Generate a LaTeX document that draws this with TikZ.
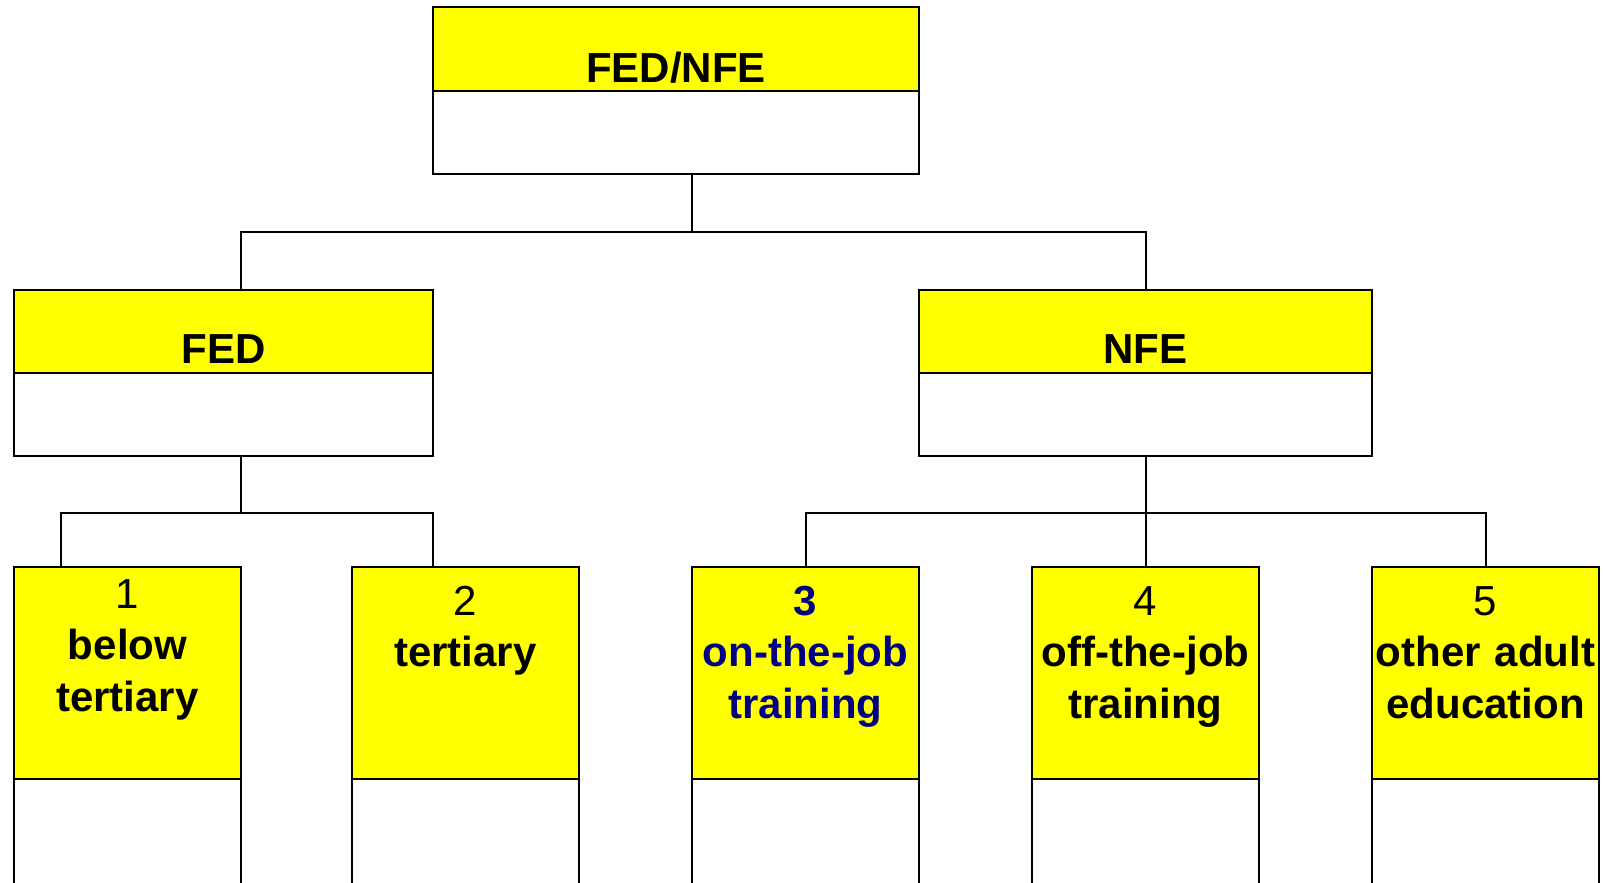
\documentclass[tikz,border=0pt]{standalone}
\usepackage{fontspec}
\setmainfont{Liberation Sans}
\usetikzlibrary{calc}
\definecolor{HeadClr}{rgb}{1,1,0}
\definecolor{NavyClr}{rgb}{0,0,0.5}

\begin{document}
\begin{tikzpicture}[x=1pt,y=-1pt,
  box/.style={draw,line width=2.4pt,inner sep=0pt,outer sep=0pt,anchor=north},
  head/.style={box,fill=HeadClr,font=\fontsize{42}{51.5}\selectfont\bfseries},
  body/.style={box,fill=white},
  leaf/.style={head,text width=227pt,align=center,text height=48pt,text depth=164pt},
  link/.style={line width=2pt}]
\useasboundingbox (0,0) rectangle (1606,883);
\clip (0,0) rectangle (1606,883);

% top level
\node[head,minimum width=486pt,text height=75pt,text depth=9pt] (topHead) at (676,7) {FED/NFE};
\node[body,minimum width=486pt,minimum height=83pt] (topBody) at (topHead.south) {};

% second level
\node[head,minimum width=419pt,text height=73pt,text depth=10pt] (fedHead) at (223.5,290) {FED};
\node[body,minimum width=419pt,minimum height=83pt] (fedBody) at (fedHead.south) {};
\node[head,minimum width=453pt,text height=73pt,text depth=10pt] (nfeHead) at (1145.5,290) {NFE};
\node[body,minimum width=453pt,minimum height=83pt] (nfeBody) at (nfeHead.south) {};

% leaves
\node[leaf,text height=41pt,text depth=171pt] (b1Head) at (127.5,567) {\textmd{1}\\below\\tertiary};
\node[leaf] (b2Head) at (465.5,567) {\textmd{2}\\tertiary};
\node[leaf,text=NavyClr] (b3Head) at (805.5,567) {3\\on-the-job\\training};
\node[leaf] (b4Head) at (1145.5,567) {\textmd{4}\\off-the-job\\training};
\node[leaf] (b5Head) at (1485.5,567) {\textmd{5}\\other adult\\education};

\node[body,minimum width=227pt,minimum height=160pt] (b1Body) at (b1Head.south) {};
\node[body,minimum width=227pt,minimum height=160pt] (b2Body) at (b2Head.south) {};
\node[body,minimum width=227pt,minimum height=160pt] (b3Body) at (b3Head.south) {};
\node[body,minimum width=227pt,minimum height=160pt] (b4Body) at (b4Head.south) {};
\node[body,minimum width=227pt,minimum height=160pt] (b5Body) at (b5Head.south) {};

% junctions
\coordinate (J0) at (692,232);
\coordinate (J1) at (241,513);
\coordinate (J2) at (1145.5,513);
\coordinate (K1) at (61,513);
\coordinate (K2) at (433,513);

\draw[link] (topBody.south -| J0) -- (J0);
\draw[link] (fedHead.north -| J1) |- (J0) -| (nfeHead.north);

\draw[link] (fedBody.south -| J1) -- (J1);
\draw[link] (b1Head.north -| K1) -- (K1) -- (K2) -- (b2Head.north -| K2);

\draw[link] (nfeBody.south) -- (J2);
\draw[link] (b3Head.north) |- (J2) -| (b5Head.north);
\draw[link] (J2) -- (b4Head.north);

\end{tikzpicture}
\end{document}
